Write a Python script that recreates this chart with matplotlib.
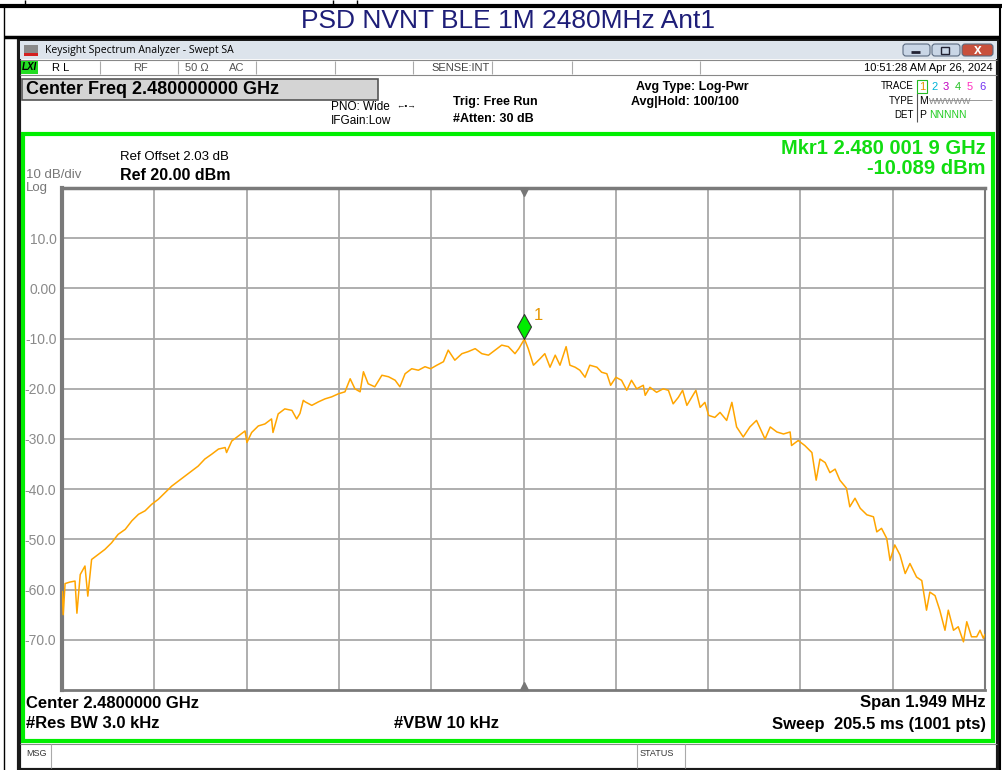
import matplotlib
matplotlib.use("Agg")
import matplotlib.pyplot as plt
import matplotlib.patches as patches
import numpy as np

plt.rcParams['font.family'] = ['Liberation Sans', 'DejaVu Sans']

# trace: offset from 2.48 GHz centre (kHz) and level (dBm)
freq_khz = [-974, -972, -968, -958, -947, -943, -936, -926, -920, -912, -898, -884,
            -870, -856, -841, -827, -813, -799, -785, -771, -757, -743, -729, -715,
            -701, -687, -673, -658, -644, -630, -627, -616, -602, -588, -584, -574,
            -560, -546, -532, -529, -518, -504, -489, -479, -472, -465, -461, -447,
            -433, -419, -405, -391, -377, -366, -356, -345, -338, -328, -314, -299,
            -285, -271, -261, -250, -236, -222, -208, -196, -183, -169, -159, -145,
            -130, -117, -102, -88, -74, -60, -46, -32, -18, -10, 2, 10, 21, 35, 45,
            56, 67, 77, 90, 98, 109, 119, 130, 140, 155, 165, 176, 184, 195, 207,
            218, 228, 239, 253, 257, 267, 281, 295, 306, 316, 327, 336, 345, 355,
            364, 373, 383, 391, 404, 415, 429, 440, 450, 464, 478, 492, 510, 521,
            535, 549, 563, 566, 580, 594, 609, 618, 626, 637, 647, 658, 668, 682,
            689, 700, 711, 725, 739, 746, 756, 767, 774, 784, 795, 806, 816, 830,
            841, 851, 858, 869, 879, 890, 897, 908, 918, 929, 936, 946, 957, 964,
            971, 974]
level_dbm = [-60.4, -65.0, -58.8, -58.5, -58.3, -64.7, -57.0, -55.3, -61.3, -54.0, -53.0, -52.0,
             -50.7, -49.0, -48.0, -46.3, -45.0, -44.3, -43.0, -42.0, -40.7, -39.4, -38.4, -37.4,
             -36.4, -35.4, -34.0, -33.0, -32.0, -31.7, -32.7, -30.4, -29.4, -28.4, -30.7, -28.7,
             -27.4, -27.0, -26.0, -28.7, -25.0, -24.0, -24.3, -26.0, -24.9, -22.3, -22.6, -23.3,
             -22.6, -22.0, -21.6, -21.0, -20.6, -18.0, -20.0, -20.6, -16.6, -19.0, -19.6, -17.3,
             -17.6, -18.3, -19.6, -17.0, -16.0, -16.3, -15.6, -16.0, -15.3, -14.6, -12.3, -14.3,
             -13.0, -12.6, -12.0, -13.0, -13.3, -12.3, -11.3, -11.6, -13.0, -12.0, -10.089, -12.0,
             -15.3, -14.0, -13.0, -15.7, -13.3, -15.3, -11.6, -15.3, -15.7, -16.3, -17.7, -15.3,
             -15.7, -16.7, -17.0, -19.3, -17.7, -18.3, -20.3, -18.3, -20.0, -19.3, -21.3, -19.7,
             -20.7, -20.0, -20.3, -23.0, -21.7, -20.3, -23.3, -21.7, -20.3, -23.7, -22.7, -25.3,
             -25.7, -24.7, -26.3, -22.7, -27.6, -29.6, -27.6, -26.3, -30.0, -27.6, -28.6, -29.0,
             -28.6, -31.3, -30.3, -31.3, -32.7, -38.2, -34.0, -34.7, -36.7, -36.0, -38.2, -39.8,
             -43.5, -41.8, -43.8, -45.1, -45.5, -48.5, -47.8, -49.8, -54.2, -51.1, -53.1, -56.8,
             -54.8, -57.5, -58.2, -64.1, -60.5, -61.2, -64.1, -68.1, -64.1, -68.1, -67.4, -70.4,
             -66.4, -69.4, -69.4, -68.1, -69.7, -69.0]

y_ticks = [10, 0, -10, -20, -30, -40, -50, -60, -70]
y_tick_labels = ['10.0', '0.00', '-10.0', '-20.0', '-30.0', '-40.0', '-50.0', '-60.0', '-70.0']
span_khz = 1949
mkr_khz, mkr_dbm = 2, -10.089

W, H = 1002, 770
fig = plt.figure(figsize=(W / 100, H / 100), dpi=100)

# full-figure overlay in pixel coordinates for the screenshot furniture
bg = fig.add_axes([0, 0, 1, 1])
bg.set_xlim(0, W)
bg.set_ylim(H, 0)
bg.axis('off')

def rect(x0, y0, x1, y1, fc='none', ec='none', lw=1, z=1):
    bg.add_patch(patches.Rectangle((x0, y0), x1 - x0, y1 - y0, facecolor=fc,
                                   edgecolor=ec, linewidth=lw, zorder=z))

def hline(y, x0, x1, c='k', lw=1, z=2):
    bg.plot([x0, x1], [y, y], color=c, lw=lw, zorder=z, solid_capstyle='butt')

def vline(x, y0, y1, c='k', lw=1, z=2):
    bg.plot([x, x], [y0, y1], color=c, lw=lw, zorder=z, solid_capstyle='butt')

def txt(x, y, s, size=9, color='k', weight='normal', ha='left', **kw):
    bg.text(x, y, s, fontsize=size, color=color, fontweight=weight, ha=ha,
            va='center', zorder=6, **kw)

# report table lines
hline(6, 0, W, lw=3)
vline(25, 0, 6)
vline(333, 0, 6)
vline(357, 0, 6)
vline(4, 6, H, lw=1)
vline(1000, 6, H, lw=1.5)
hline(37, 4, 1000, lw=2.5)
txt(508, 21, 'PSD NVNT BLE 1M 2480MHz Ant1', size=19, color='#1e1e78', ha='center')

# window frame
rect(19, 40, 998, 770, fc='white', ec='#1a1a1a', lw=3)
rect(20, 41, 997, 59, fc='#dde4ec', z=2)
rect(24, 45, 38, 56, fc='#8a8a8a', z=3)
rect(24, 53, 38, 56, fc='#d42020', z=4)
txt(45, 50.5, 'Keysight Spectrum Analyzer - Swept SA', size=7.5, family='Open Sans')
for x0, x1, fc in [(903, 930, '#c9d6e6'), (932, 960, '#c9d6e6'), (962, 993, '#c8503c')]:
    bg.add_patch(patches.FancyBboxPatch((x0, 44), x1 - x0, 12, boxstyle='round,pad=0,rounding_size=3',
                                        facecolor=fc, edgecolor='#5a6a80', lw=0.8, zorder=3))
hline(52, 911, 920, c='#223', lw=2, z=4)
rect(941, 47, 949, 54, ec='#223', lw=1, z=4)
txt(977.5, 50, 'x', size=10, color='white', weight='bold', ha='center')

# status strip
hline(60, 20, 997, c='#888', lw=0.8)
hline(75, 20, 997, c='#888', lw=0.8)
rect(21, 61, 38, 74, fc='#22dd22', z=2)
txt(22, 67.5, 'LXI', size=7, weight='bold', style='italic')
for xs in [100, 178, 256, 335, 413, 492, 572, 700]:
    vline(xs, 61, 74, c='#aaa', lw=0.8)
txt(52, 68, 'R L', size=8)
txt(133, 68, 'RF', size=8, color='#555')
txt(185, 68, '50 Ω', size=8, color='#555')
txt(229, 68, 'AC', size=8, color='#555')
txt(431, 68, 'SENSE:INT', size=8, color='#444')
txt(993, 68, '10:51:28 AM Apr 26, 2024', size=8, ha='right')

# settings area
rect(22, 79, 378, 100, fc='#d4d4d4', ec='#555', lw=1.2, z=2)
txt(26, 89.5, 'Center Freq 2.480000000 GHz', size=13, weight='bold')
txt(331, 107, 'PNO: Wide', size=8.5)
txt(331, 121, 'IFGain:Low', size=8.5)
txt(396, 106, '\u2190\u2022\u2192', size=6)
txt(453, 102, 'Trig: Free Run', size=9, weight='bold')
txt(453, 119, '#Atten: 30 dB', size=9, weight='bold')
txt(636, 87, 'Avg Type: Log-Pwr', size=9, weight='bold')
txt(631, 102, 'Avg|Hold: 100/100', size=9, weight='bold')
txt(914, 86, 'TRACE', size=7, ha='right')
txt(914, 101, 'TYPE', size=7, ha='right')
txt(914, 115, 'DET', size=7, ha='right')
rect(917, 80, 927, 93, ec='#22bb22', lw=0.8, z=3)
vline(917, 93, 122, c='#555', lw=0.8)
trace_cols = ['#e69500', '#00b4d8', '#c000c0', '#22c022', '#ff30c0', '#7030f0']
for i, c in enumerate(trace_cols):
    txt(919 + i * 12, 86.5, str(i + 1), size=8, color=c)
txt(919, 101, 'M', size=7.5)
txt(929, 101, 'WWWWW', size=6.5, color='#888')
hline(100, 929, 992, c='#888', lw=0.6)
txt(919, 115.5, 'P', size=7.5)
txt(929, 115.5, 'NNNNN', size=7.5, color='#22cc22')

# measurement window
rect(23, 134, 993, 741, ec='#00ee00', lw=3, z=3)
txt(120, 157, 'Ref Offset 2.03 dB', size=9.5)
txt(120, 175, 'Ref 20.00 dBm', size=11.5, weight='bold')
txt(26, 174.5, '10 dB/div', size=9.5, color='#777')
txt(26, 188, 'Log', size=9.5, color='#777')
txt(986, 148, 'Mkr1 2.480 001 9 GHz', size=14.5, weight='bold', color='#11dd11', ha='right')
txt(986, 168, '-10.089 dBm', size=14.5, weight='bold', color='#11dd11', ha='right')
txt(26, 703, 'Center 2.4800000 GHz', size=12, weight='bold')
txt(986, 703, 'Span 1.949 MHz', size=12, weight='bold', ha='right')
txt(26, 724, '#Res BW 3.0 kHz', size=12, weight='bold')
txt(394, 724, '#VBW 10 kHz', size=12, weight='bold')
txt(986, 724, 'Sweep  205.5 ms (1001 pts)', size=12, weight='bold', ha='right')

# message bar
hline(744, 20, 997, c='#888', lw=0.8)
vline(51, 744, 768, c='#aaa', lw=0.8)
vline(637, 744, 768, c='#aaa', lw=0.8)
vline(685, 744, 768, c='#aaa', lw=0.8)
txt(26, 754, 'MSG', size=6.5, color='#333')
txt(640, 754, 'STATUS', size=6.5, color='#333')

# graticule and trace
left, right, top, bottom = 62, 985, 188, 690
ax = fig.add_axes([left / W, 1 - bottom / H, (right - left) / W, (bottom - top) / H])
ax.set_zorder(5)
half = span_khz / 2
ax.set_xlim(-half, half)
ax.set_ylim(-80, 20)
ax.set_xticks(np.linspace(-half, half, 11))
ax.set_xticklabels([])
ax.set_yticks(y_ticks)
ax.set_yticklabels(y_tick_labels)
ax.tick_params(length=0, pad=4, labelsize=10, labelcolor='#8a8a8a')
ax.grid(True, color='#a8a8a8', lw=1.3)
for side, lw in [('left', 3), ('top', 2.5), ('right', 1.5), ('bottom', 2)]:
    ax.spines[side].set_color('#7a7a7a')
    ax.spines[side].set_linewidth(lw)

ax.plot(freq_khz, level_dbm, color='#ffa500', lw=1.1, zorder=3)

ax.plot([0], [19.2], marker='v', ms=6, color='#777', zorder=4, clip_on=False)
ax.plot([0], [-79.2], marker='^', ms=6, color='#777', zorder=4, clip_on=False)
diamond = [(0, 0), (0.28, 0.5), (0, 1), (-0.28, 0.5), (0, 0)]
ax.plot([mkr_khz], [mkr_dbm], marker=diamond, ms=36, color='#00ee00', mec='#333',
        mew=0.8, zorder=5)
ax.annotate('1', (mkr_khz, mkr_dbm), xytext=(9, 24), textcoords='offset pixels',
            fontsize=12, color='#e69500', ha='left', va='center', zorder=6)

fig.savefig('out.png', dpi=100)
